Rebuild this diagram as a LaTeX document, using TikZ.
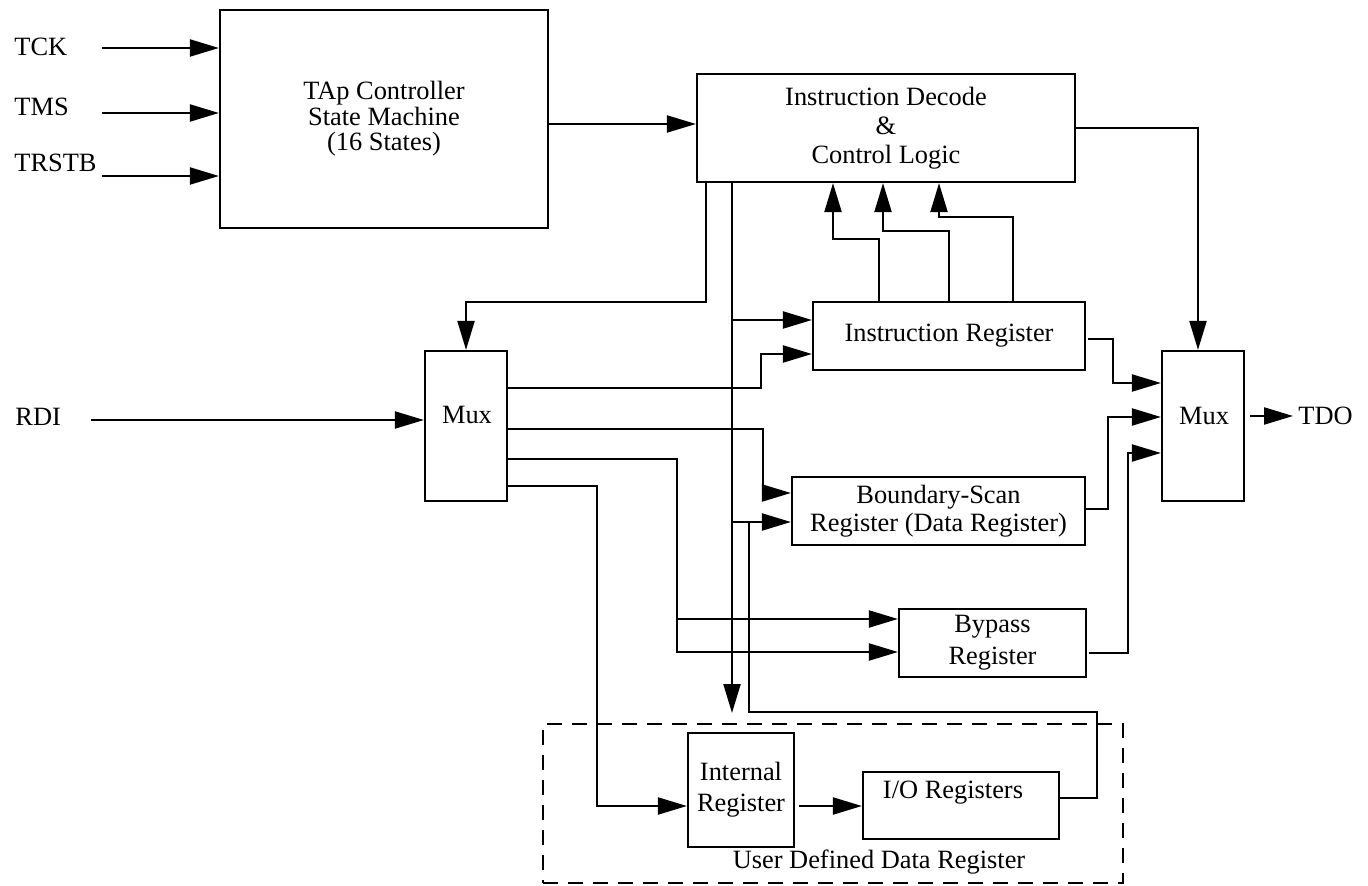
\documentclass[tikz,border=0pt]{standalone}
\usepackage{fontspec}
\setmainfont{Liberation Serif}
\usetikzlibrary{arrows.meta,calc}
\begin{document}
\begin{tikzpicture}[x=0.5pt,y=-0.5pt,
  every node/.style={font=\fontsize{13.2}{14.5}\selectfont},
  box/.style={draw,line width=1.1pt,inner sep=0pt,align=center},
  wire/.style={line width=1.1pt},
  arr/.style={wire,-{Triangle[length=14.5pt,width=8.5pt]}},
  lbl/.style={inner sep=0pt,anchor=west}]
\useasboundingbox (0,0) rectangle (1368,886);

% ---- blocks ----
\node[box,minimum width=164pt,minimum height=109pt,
      font=\fontsize{13.2}{12.8}\selectfont] (tap) at (384,119)
  {TAp Controller\\State Machine\\(16 States)};
\node[box,minimum width=189pt,minimum height=54pt] (id) at (886,128)
  {Instruction Decode\\\&\\Control Logic};
\node[box,minimum width=136pt,minimum height=34pt] (ir) at (949,336)
  {Instruction Register};
\node[box,minimum width=146.5pt,minimum height=34pt,
      font=\fontsize{13.2}{14}\selectfont] (bs) at (938.5,511)
  {Boundary-Scan\\Register (Data Register)};
\node[box,minimum width=93.5pt,minimum height=34pt,
      font=\fontsize{13.2}{16}\selectfont] (bp) at (992.5,643)
  {Bypass\\Register};
\node[box,minimum width=41pt,minimum height=75pt] (mux1) at (466,426) {};
\node[inner sep=0pt] (mux1t) at (467,415) {Mux};
\node[box,minimum width=41pt,minimum height=75pt] (mux2) at (1203,426) {};
\node[inner sep=0pt] (mux2t) at (1204,416) {Mux};

% user defined data register group
\node[draw,line width=1.1pt,dash pattern=on 7.5pt off 5pt,inner sep=0pt,
      minimum width=290pt,minimum height=79.5pt] (udr) at (833,803.5) {};
\node[inner sep=0pt] (udrt) at (879,862) {User Defined Data Register};
\node[box,minimum width=53pt,minimum height=57pt,
      font=\fontsize{13.2}{15.5}\selectfont] (int) at (741,790)
  {Internal\\Register};
\node[box,minimum width=98pt,minimum height=33.5pt] (io) at (961,805.5) {};
\node[inner sep=0pt] (iot) at (953,793) {I/O Registers};

% ---- pin labels ----
\node[lbl] (tck) at (14,47) {TCK};
\node[lbl] (tms) at (14,107) {TMS};
\node[lbl] (trstb) at (14,163) {TRSTB};
\node[lbl] (rdi) at (15,417) {RDI};
\node[lbl] (tdo) at (1298,416) {TDO};

\coordinate (tckin) at (102,48);
\coordinate (tmsin) at (102,113);
\coordinate (trin) at (102,176);
\coordinate (rdiin) at (91,420);

% ---- inputs to the TAP controller ----
\draw[arr] (tckin) -- (tckin -| tap.west);
\draw[arr] (tmsin) -- (tmsin -| tap.west);
\draw[arr] (trin) -- (trin -| tap.west);
\draw[arr] (tap.east |- 0,124) -- (id.west |- 0,124);

% ---- serial data input ----
\draw[arr] (rdiin) -- (rdiin -| mux1.west);

% ---- decode logic to input mux ----
\draw[arr] (id.south -| 706,0) |- (466,302) -- (mux1.north);

% ---- control bus down the middle ----
\coordinate (cdown) at (732,713);
\coordinate (j1) at (732,320);
\coordinate (j2) at (732,522);
\draw[arr] (id.south -| 732,0) -- (cdown);
\draw[arr] (j1) -- (j1 -| ir.west);
\draw[arr] (j2) -- (j2 -| bs.west);

% ---- instruction register feedback to decoder ----
\draw[arr] (ir.north -| 879,0) |- (833,239) -- (id.south -| 833,0);
\draw[arr] (ir.north -| 949,0) |- (883,231) -- (id.south -| 883,0);
\draw[arr] (ir.north -| 1013,0) |- (939,217) -- (id.south -| 939,0);

% ---- input mux outputs ----
\draw[arr] (mux1.east |- 0,388) -| (761,354) -- (ir.west |- 0,354);
\draw[arr] (mux1.east |- 0,429) -| (763,493) -- (bs.west |- 0,493);
\draw[arr] (mux1.east |- 0,459) -| (677,652) -- (bp.west |- 0,652);
\draw[arr] (677,619) -- (bp.west |- 0,619);
\draw[arr] (mux1.east |- 0,486) -| (597,806) -- (int.west |- 0,806);

% ---- user defined register chain ----
\draw[arr] ($(int.east |- 0,806)+(4,0)$) -- (io.west |- 0,806);
\draw[wire] (io.east |- 0,798) -| (1097,712) -| (749,522);

% ---- registers to output mux ----
\draw[arr] ($(ir.east |- 0,339)+(2,0)$) -| (1113,383) -- (mux2.west |- 0,383);
\draw[arr] (bs.east |- 0,509) -| (1108,417) -- (mux2.west |- 0,417);
\draw[arr] ($(bp.east |- 0,653)+(2,0)$) -| (1128,453) -- (mux2.west |- 0,453);
\draw[arr] (id.east |- 0,128) -| (mux2.north -| 1198,0);

% ---- serial data output ----
\draw[arr] ($(mux2.east |- 0,416)+(5,0)$) -- (1293,416);
\end{tikzpicture}
\end{document}
